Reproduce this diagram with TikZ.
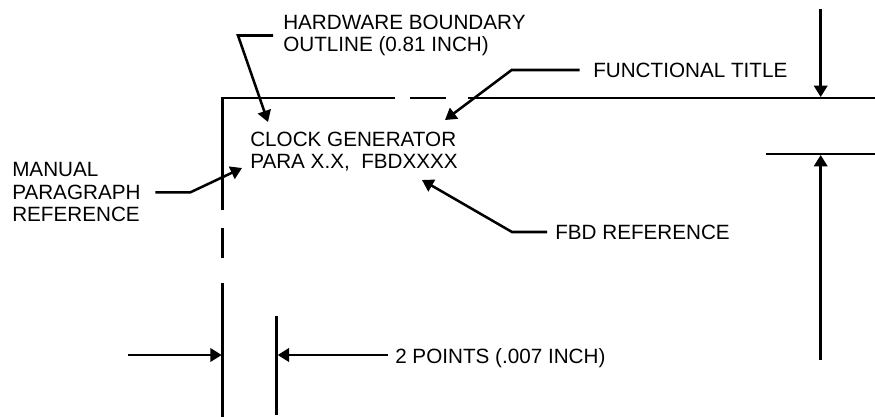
\documentclass[tikz,border=0pt]{standalone}
\usepackage{fontspec}
\setmainfont{Liberation Sans}
\usetikzlibrary{arrows.meta}
\tikzset{
	lbl/.style={font=\fontsize{15.5}{17}\selectfont, inner sep=0pt, align=left, anchor=west},
	edge/.style={line width=2pt},
	lead/.style={line width=1.9pt, -{Triangle[length=8.5pt,width=10pt]}}
}

\begin{document}
\begin{tikzpicture}[x=0.75pt,y=-0.75pt]
	\useasboundingbox (0,0) rectangle (875,417);

	% hardware boundary outline, broken
	\draw[edge, line join=miter] (222.7,210) -- (222.7,98) -- (395,98);
	\draw[edge] (410,98) -- (446,98);
	\draw[edge] (468,98) -- (875,98);
	\draw[edge] (222.7,228) -- (222.7,258);
	\draw[edge] (222.7,283) -- (222.7,417);
	\draw[edge] (276.7,316) -- (276.7,415);
	\draw[edge] (766,154) -- (875,154);

	% labels
	\node[lbl] (hw) at (283,35.5) {HARDWARE BOUNDARY\\OUTLINE (0.81 INCH)};
	\node[lbl] (ft) at (593,70) {FUNCTIONAL TITLE};
	\node[lbl] (clk) at (250,151.5) {CLOCK GENERATOR\\PARA X.X,\ \ FBDXXXX};
	\node[lbl] (man) at (12,192.3) {MANUAL\\PARAGRAPH\\REFERENCE};
	\node[lbl] (fbd) at (555,232) {FBD REFERENCE};
	\node[lbl] (pts) at (395,358) {2 POINTS (.007 INCH)};

	% arrow ends
	\coordinate (hwtip) at (268,122);
	\coordinate (fttip) at (445,120);
	\coordinate (mantip) at (242,168);
	\coordinate (fbdtip) at (422,180);
	\coordinate (ptstip) at (277.7,355);
	\coordinate (lfrom) at (128,355);
	\coordinate (ltip) at (221.7,355);
	\coordinate (ttop) at (820.7,9);
	\coordinate (ttip) at (820.7,97);
	\coordinate (bbot) at (820.7,360);
	\coordinate (btip) at (820.7,155);

	% leaders
	\draw[lead] ([xshift=-7.5pt]hw.west) -- ++(-35,0) -- (hwtip);
	\draw[lead] ([xshift=-10pt]ft.west) -- ++(-68,0) -- (fttip);
	\draw[lead] ([xshift=11pt]man.east) -- ++(35,0) -- (mantip);
	\draw[lead] ([xshift=-6pt]fbd.west) -- ++(-35,0) -- (fbdtip);
	\draw[lead] ([xshift=-5pt]pts.west |- ptstip) -- (ptstip);

	% dimension arrows
	\draw[lead] (lfrom) -- (ltip);
	\draw[lead] (ttop) -- (ttip);
	\draw[lead] (bbot) -- (btip);
\end{tikzpicture}
\end{document}
